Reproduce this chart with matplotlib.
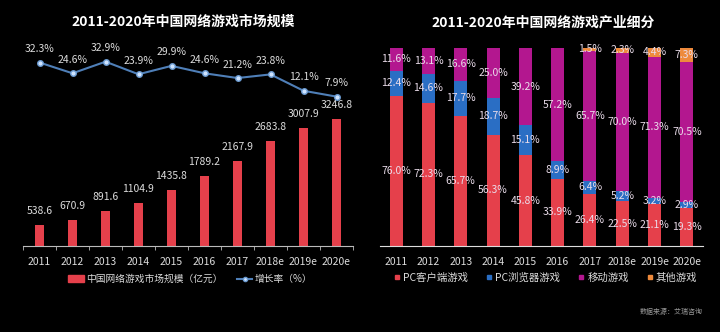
import numpy as np
import matplotlib
matplotlib.use('Agg')
import matplotlib.pyplot as plt
from matplotlib.lines import Line2D
from matplotlib.patches import Patch

plt.rcParams['font.family'] = ['Noto Sans CJK SC', 'DejaVu Sans']

# data
years = ['2011', '2012', '2013', '2014', '2015', '2016', '2017', '2018e', '2019e', '2020e']
market = [538.6, 670.9, 891.6, 1104.9, 1435.8, 1789.2, 2167.9, 2683.8, 3007.9, 3246.8]
growth = [32.3, 24.6, 32.9, 23.9, 29.9, 24.6, 21.2, 23.8, 12.1, 7.9]

pc_client = [76.0, 72.3, 65.7, 56.3, 45.8, 33.9, 26.4, 22.5, 21.1, 19.3]
pc_browser = [12.4, 14.6, 17.7, 18.7, 15.1, 8.9, 6.4, 5.2, 3.2, 2.9]
mobile = [11.6, 13.1, 16.6, 25.0, 39.2, 57.2, 65.7, 70.0, 71.3, 70.5]
other = [0, 0, 0, 0, 0, 0, 1.5, 2.3, 4.4, 7.3]
seg_names = ['PC客户端游戏', 'PC浏览器游戏', '移动游戏', '其他游戏']

RED = '#e5404b'
BLUE = '#2a6ec4'
MAG = '#b3178f'
ORANGE = '#ee8a3c'
TXT = '#dcdcdc'

fig = plt.figure(figsize=(7.2, 3.32), dpi=100, facecolor='black')
x = np.arange(len(years))

# ---- left chart: market size + growth rate
ax = fig.add_axes([23/720, 86/332, 330/720, 211/332], facecolor='black')
ax.bar(x, market, width=0.3, color=RED)
for i, v in enumerate(market):
    ax.text(i, v + 230, f'{v:.1f}', ha='center', va='bottom', color=TXT, fontsize=7.5)
ax.set_xlim(-0.5, 9.5)
ax.set_ylim(0, 5400)
ax.set_yticks([])
ax.set_xticks(x)
ax.set_xticklabels(years, color=TXT, fontsize=7.5)
ax.tick_params(axis='x', length=0, pad=8)
ax.set_xticks(np.arange(-0.5, 10, 1), minor=True)
ax.tick_params(axis='x', which='minor', length=3, color='#bbbbbb', direction='out')
for s in ['top', 'right', 'left']:
    ax.spines[s].set_visible(False)
ax.spines['bottom'].set_color('#bbbbbb')

ax2 = ax.twinx()
ax2.plot(x, growth, color='#4f7fb8', lw=1.5, marker='o', ms=4,
         mfc='#cfe4ff', mec='#6a9ad0', mew=1)
for i, v in enumerate(growth):
    ax2.text(i, v + 6, f'{v}%', ha='center', va='bottom', color=TXT, fontsize=7.5)
ax2.set_ylim(-99, 52)
ax2.axis('off')

fig.text(183/720, 1 - 22/332, '2011-2020年中国网络游戏市场规模', ha='center', va='center',
         color='white', fontsize=10, fontweight='bold')

leg_handles = [Patch(color=RED),
               Line2D([0], [0], color='#4f7fb8', marker='o', ms=3, mfc='#cfe4ff', mec='#6a9ad0')]
fig.legend(leg_handles, ['中国网络游戏市场规模（亿元）', '增长率（%）'], loc='center',
           bbox_to_anchor=(190/720, 1 - 279/332), ncol=2, frameon=False, fontsize=7,
           labelcolor=TXT, handlelength=1.6, handleheight=0.6, columnspacing=1.5,
           handletextpad=0.2)

# ---- right chart: segment shares
bx = fig.add_axes([380/720, 86/332, 323/720, 198/332], facecolor='black')
segs = [pc_client, pc_browser, mobile, other]
cols = [RED, BLUE, MAG, ORANGE]
bottom = np.zeros(len(years))
for vals, c in zip(segs, cols):
    vals = np.array(vals)
    bx.bar(x, vals, width=0.4, bottom=bottom, color=c)
    for i, v in enumerate(vals):
        if v > 0:
            bx.text(i, bottom[i] + v / 2, f'{v:.1f}%', ha='center', va='center',
                    color='#eadcea', fontsize=7.5)
    bottom += vals
bx.set_xlim(-0.5, 9.5)
bx.set_ylim(0, 100)
bx.set_yticks([])
bx.set_xticks(x)
bx.set_xticklabels(years, color=TXT, fontsize=7.5)
bx.tick_params(axis='x', length=0, pad=8)
for s in ['top', 'right', 'left']:
    bx.spines[s].set_visible(False)
bx.spines['bottom'].set_color('#dddddd')

fig.text(543/720, 1 - 23/332, '2011-2020年中国网络游戏产业细分', ha='center', va='center',
         color='white', fontsize=10, fontweight='bold')

seg_handles = [Line2D([0], [0], ls='', marker='s', ms=3.5, color=c) for c in cols]
fig.legend(seg_handles, seg_names, loc='center', bbox_to_anchor=(545/720, 1 - 278/332),
           ncol=4, frameon=False, fontsize=7.5, labelcolor=TXT, handlelength=0.8,
           handletextpad=0.2, columnspacing=1.6)

fig.text(703/720, 1 - 312/332, '数据来源：艾瑞咨询', ha='right', va='center',
         color='#999999', fontsize=5)

fig.savefig('out.png', dpi=100, facecolor='black')
